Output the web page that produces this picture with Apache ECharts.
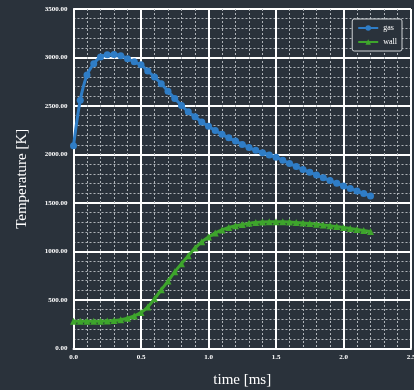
<!DOCTYPE html>
<html><head><meta charset="utf-8">
<script src="https://cdn.jsdelivr.net/npm/echarts@6/dist/echarts.min.js"></script>
<style>html,body{margin:0;padding:0;background:#2a323b;}#c{width:414px;height:390px;}</style>
</head><body><div id="c"></div>
<script>
var times = [0.00,0.05,0.10,0.15,0.20,0.25,0.30,0.35,0.40,0.45,0.50,0.55,0.60,0.65,0.70,0.75,0.80,0.85,0.90,0.95,1.00,1.05,1.10,1.15,1.20,1.25,1.30,1.35,1.40,1.45,1.50,1.55,1.60,1.65,1.70,1.75,1.80,1.85,1.90,1.95,2.00,2.05,2.10,2.15,2.20];
var gas = [2090,2560,2820,2935,3005,3028,3032,3018,2988,2955,2925,2862,2798,2730,2652,2578,2505,2440,2388,2336,2290,2248,2208,2172,2138,2104,2072,2044,2018,1995,1972,1940,1908,1876,1846,1816,1788,1760,1732,1704,1676,1650,1624,1598,1572];
var wall = [280,280,280,281,282,284,288,297,312,335,370,428,512,605,695,790,875,955,1035,1100,1150,1190,1222,1247,1265,1279,1290,1298,1303,1306,1307,1306,1304,1300,1295,1289,1282,1274,1266,1257,1248,1238,1228,1217,1205];
var xTicks = {min:0, max:2.5, interval:0.5};
var yTicks = {min:0, max:3500, interval:500};

function pairs(xs, ys){ return xs.map(function(x,i){return [x, ys[i]];}); }

var font = 'Liberation Serif, DejaVu Serif, serif';
var chart = echarts.init(document.getElementById('c'), null, {renderer:'canvas'});
chart.setOption({
  backgroundColor:'#2a323b',
  animation:false,
  grid:{left:73.5, top:9, right:3, bottom:41.5, containLabel:false, outerBoundsMode:'none'},
  legend:{
    orient:'vertical', right:12, top:19,
    borderColor:'#cfd3d6', borderWidth:1, borderRadius:2, padding:[5,5,5,5],
    backgroundColor:'#2a323b',
    itemWidth:20, itemHeight:7, itemGap:6,
    textStyle:{color:'#ffffff', fontFamily:font, fontSize:8},
    data:['gas','wall']
  },
  xAxis:{
    type:'value', min:xTicks.min, max:xTicks.max, interval:xTicks.interval,
    name:'time [ms]', nameLocation:'middle', nameGap:24,
    nameTextStyle:{color:'#ffffff', fontFamily:font, fontSize:15},
    axisLine:{show:true, lineStyle:{color:'#ffffff', width:2}},
    axisTick:{show:false},
    axisLabel:{color:'#ffffff', fontFamily:font, fontSize:7, fontWeight:'bold', margin:5,
      formatter:function(v){return v.toFixed(1);}},
    splitLine:{show:true, lineStyle:{color:'#ffffff', width:2}},
    minorTick:{show:false, splitNumber:5},
    minorSplitLine:{show:true, lineStyle:{color:'#aeb3b8', width:1, type:[2,2]}}
  },
  yAxis:{
    type:'value', min:yTicks.min, max:yTicks.max, interval:yTicks.interval,
    name:'Temperature [K]', nameLocation:'middle', nameGap:44,
    nameTextStyle:{color:'#ffffff', fontFamily:font, fontSize:15},
    axisLine:{show:true, lineStyle:{color:'#ffffff', width:2}},
    axisTick:{show:false},
    axisLabel:{color:'#ffffff', fontFamily:font, fontSize:7, fontWeight:'bold', margin:6,
      formatter:function(v){return v.toFixed(2);}},
    splitLine:{show:true, lineStyle:{color:'#ffffff', width:2}},
    minorTick:{show:false, splitNumber:5},
    minorSplitLine:{show:true, lineStyle:{color:'#aeb3b8', width:1, type:[2,2]}}
  },
  series:[
    {name:'gas', type:'line', data:pairs(times, gas), symbol:'circle', symbolSize:7,
     showAllSymbol:true, smooth:0.3,
     itemStyle:{color:'#2f7dc6'}, lineStyle:{color:'#2f7dc6', width:3}},
    {name:'wall', type:'line', data:pairs(times, wall), symbol:'triangle', symbolSize:7,
     showAllSymbol:true, smooth:0.3,
     itemStyle:{color:'#3ea52c'}, lineStyle:{color:'#3ea52c', width:3}}
  ]
});
</script></body></html>
